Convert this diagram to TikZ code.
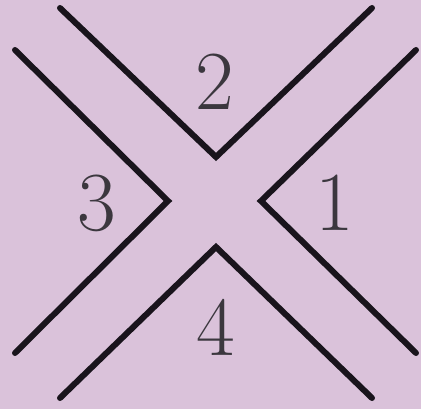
\documentclass[tikz,border=0pt]{standalone}
\definecolor{bg}{RGB}{218,194,218}
\definecolor{ink}{RGB}{25,20,28}
\begin{document}
\begin{tikzpicture}[x=1pt,y=-1pt,
  vline/.style={draw=ink,line width=6pt,line cap=round,line join=miter},
  lbl/.style={text=ink!85,font=\fontsize{84}{84}\selectfont,inner sep=0pt}]
\fill[bg] (0,0) rectangle (421,409);
\useasboundingbox (0,0) rectangle (421,409);
% top V
\coordinate (t1) at (60,8);
\coordinate (t2) at (216,157);
\coordinate (t3) at (372,8);
% left V
\coordinate (l1) at (15,50);
\coordinate (l2) at (168,201);
\coordinate (l3) at (15,353);
% right V
\coordinate (r1) at (416,50);
\coordinate (r2) at (261,201);
\coordinate (r3) at (416,353);
% bottom V
\coordinate (b1) at (60,398);
\coordinate (b2) at (216,247);
\coordinate (b3) at (372,398);
\draw[vline] (t1) -- (t2) -- (t3);
\draw[vline] (l1) -- (l2) -- (l3);
\draw[vline] (r1) -- (r2) -- (r3);
\draw[vline] (b1) -- (b2) -- (b3);
\node[lbl] (n2) at (215,82) {2};
\node[lbl] (n3) at (97,203) {3};
\node[lbl] (n1) at (335,203) {1};
\node[lbl] (n4) at (216,327) {4};
\end{tikzpicture}
\end{document}
